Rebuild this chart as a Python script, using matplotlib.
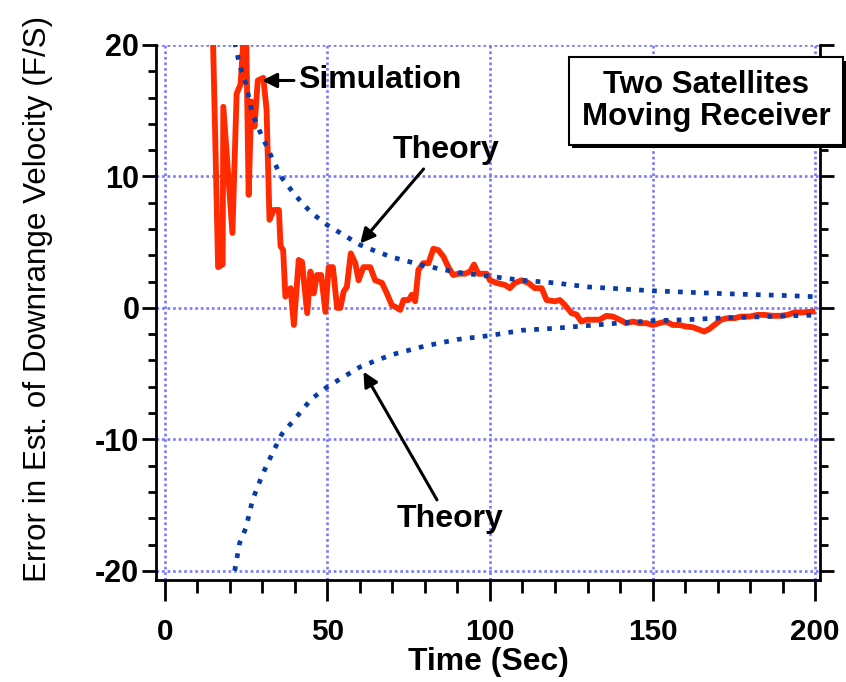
import matplotlib
matplotlib.use('Agg')
import matplotlib.pyplot as plt
import matplotlib.patheffects as pe
from matplotlib import font_manager
from matplotlib.ticker import MultipleLocator

# simulation error (red line)
sim_t = [14.6, 16.4, 17.8, 18.0, 20.8, 22.1, 23.3, 24.9, 25.8, 26.6,
         27.6, 28.6, 30.3, 31.3, 32.2, 33.5, 35.1, 35.6, 36.4, 37.1,
         38.7, 39.7, 41.2, 42.2, 43.8, 44.8, 45.8, 46.8, 48.1, 49.4,
         50.4, 51.7, 53.0, 54.0, 55.0, 56.0, 57.2, 58.6, 59.6, 61.1,
         63.2, 64.7, 66.8, 68.3, 69.8, 72.4, 73.4, 75.0, 76.0, 77.0,
         78.0, 79.5, 81.1, 82.6, 84.1, 85.7, 87.2, 88.7, 90.3, 92.3,
         93.9, 95.1, 96.4, 99.0, 100.0, 102.0, 104.6, 106.1, 107.7, 109.7,
         111.8, 113.8, 115.9, 117.4, 119.9, 121.5, 123.0, 125.1, 126.6, 128.1,
         129.7, 133.7, 135.8, 137.8, 139.9, 141.9, 144.0, 146.0, 148.1, 150.1,
         152.1, 154.2, 156.2, 158.3, 160.3, 162.4, 164.5, 165.9, 167.5, 169.0,
         171.1, 173.1, 175.2, 177.2, 179.8, 182.3, 184.4, 186.9, 189.5, 191.5,
         193.6, 196.1, 199.2]
sim_v = [23.0, 3.1, 3.3, 15.3, 5.7, 16.3, 17.0, 23.0, 8.6, 15.7,
         13.8, 17.3, 17.5, 15.1, 6.7, 7.45, 7.45, 4.7, 4.4, 0.86,
         1.5, -1.3, 3.65, 3.5, -0.4, 2.76, 1.1, 2.5, 2.5, -0.3,
         3.1, 3.1, 0.0, 0.0, 1.24, 1.6, 4.15, 3.4, 2.1, 3.1,
         3.1, 2.1, 1.9, 1.1, 0.23, -0.15, 0.6, 0.6, 1.0, 0.5,
         2.9, 3.4, 3.4, 4.5, 4.4, 3.9, 3.1, 2.5, 2.6, 2.6,
         2.76, 3.3, 2.6, 2.6, 2.1, 1.9, 1.75, 1.5, 1.9, 2.1,
         1.9, 1.5, 1.5, 0.6, 0.5, 0.6, 0.23, -0.4, -0.5, -1.04,
         -0.9, -0.9, -0.6, -0.66, -0.9, -1.16, -1.04, -1.16, -1.16, -1.3,
         -1.16, -1.04, -1.3, -1.3, -1.42, -1.47, -1.67, -1.8, -1.6, -1.3,
         -0.9, -0.78, -0.78, -0.66, -0.66, -0.53, -0.53, -0.6, -0.6, -0.53,
         -0.35, -0.35, -0.28]

# theory bounds (blue dotted)
th_t = [21.5, 23, 25, 27, 30, 33, 36, 40, 45, 50, 55, 60, 65, 70,
        80, 90, 100, 110, 120, 130, 140, 150, 160, 170, 180, 190, 200]
th_up = [20.2, 18.5, 17.0, 14.7, 13.0, 11.4, 9.9, 8.6, 7.25, 6.3, 5.55, 4.8, 4.3, 3.85,
         3.2, 2.7, 2.4, 2.1, 1.9, 1.6, 1.45, 1.3, 1.2, 1.1, 1.02, 0.95, 0.85]
th_lo = [-20.0, -17.9, -16.7, -14.6, -12.7, -11.1, -9.6, -8.45, -6.95, -6.0, -5.25, -4.5, -4.0, -3.55,
         -2.9, -2.4, -2.1, -1.7, -1.55, -1.35, -1.15, -0.98, -0.9, -0.78, -0.7, -0.62, -0.55]

x_ticks = [0, 50, 100, 150, 200]
y_ticks = [-20, -10, 0, 10, 20]

plt.rcParams['axes.unicode_minus'] = False

# condensed font for axis text if there is one
have = {f.name for f in font_manager.fontManager.ttflist}
if 'Liberation Sans Narrow' in have:
    narrow, nscale = 'Liberation Sans Narrow', 1.0
else:
    narrow, nscale = 'Liberation Sans', 0.82
plain = 'Liberation Sans'

fig = plt.figure(figsize=(8.46, 6.82), dpi=100)
ax = fig.add_axes([156/846, 1 - 580/682, 664/846, 535/682])

ax.plot(sim_t, sim_v, color='#ff2a00', lw=4.2, zorder=3)
dots = (0, (1, 1.75))
ax.plot(th_t, th_up, color='#0a3ca8', lw=3.4, ls=dots, zorder=4)
ax.plot(th_t, th_lo, color='#0a3ca8', lw=3.4, ls=dots, zorder=4)

ax.set_xlim(-2.7, 201.5)
ax.set_ylim(-20.7, 20)
ax.set_xticks(x_ticks)
ax.set_yticks(y_ticks)
ax.xaxis.set_minor_locator(MultipleLocator(10))
ax.yaxis.set_minor_locator(MultipleLocator(2))
ax.grid(True, which='major', color='#7878ff', ls=(0, (1, 1.1)), lw=1.9)
ax.set_axisbelow(True)

ax.spines['top'].set_visible(False)
for s in ['left', 'right', 'bottom']:
    ax.spines[s].set_linewidth(2)

ax.tick_params(axis='both', which='both', direction='out', width=2)
ax.tick_params(axis='x', which='major', length=15, pad=12)
ax.tick_params(axis='x', which='minor', length=9)
ax.tick_params(axis='y', which='major', length=10, pad=2, right=True)
ax.tick_params(axis='y', which='minor', length=6, right=True)

for lab in ax.get_xticklabels():
    lab.set_fontfamily(narrow)
    lab.set_fontweight('bold')
    lab.set_fontsize(26 * nscale)
for lab in ax.get_yticklabels():
    lab.set_fontfamily(plain)
    lab.set_fontweight('bold')
    lab.set_fontsize(22)

ax.set_xlabel('Time (Sec)', family=narrow, weight='bold', size=28 * nscale, va='center')
ax.xaxis.set_label_coords(0.5, -0.153)
ax.set_ylabel('Error in Est. of Downrange Velocity (F/S)', family=narrow,
              size=27.6 * nscale, ha='left', va='center', rotation_mode='anchor')
ax.yaxis.set_label_coords(-0.178, -0.004)

arrow = dict(arrowstyle='-|>', color='k', lw=2.2, mutation_scale=22,
             shrinkA=1, shrinkB=0)
ax.annotate('Simulation', xy=(29.9, 17.3), xytext=(41.0, 17.3),
            ha='left', va='center', family=plain, weight='bold', size=23,
            arrowprops=dict(arrow, relpos=(0, 0.5)))
ax.annotate('Theory', xy=(60.1, 4.9), xytext=(86.5, 12.0),
            ha='center', va='center', family=plain, weight='bold', size=23,
            arrowprops=dict(arrow, relpos=(0.32, 0)))
ax.annotate('Theory', xy=(61.1, -4.85), xytext=(87.7, -16.05),
            ha='center', va='center', family=plain, weight='bold', size=23,
            arrowprops=dict(arrow, relpos=(0.4, 1)))

box = fig.text(706/846, 1 - 101/682, 'Two Satellites\nMoving Receiver',
               ha='center', va='center', family=plain, weight='bold', size=22.5,
               linespacing=1.05,
               bbox=dict(boxstyle='square,pad=0.42', fc='white', ec='k', lw=1.5))
box.get_bbox_patch().set_path_effects(
    [pe.SimplePatchShadow(offset=(2.5, -2.5), shadow_rgbFace='k', alpha=1),
     pe.Normal()])

fig.savefig('out.png', dpi=100)
